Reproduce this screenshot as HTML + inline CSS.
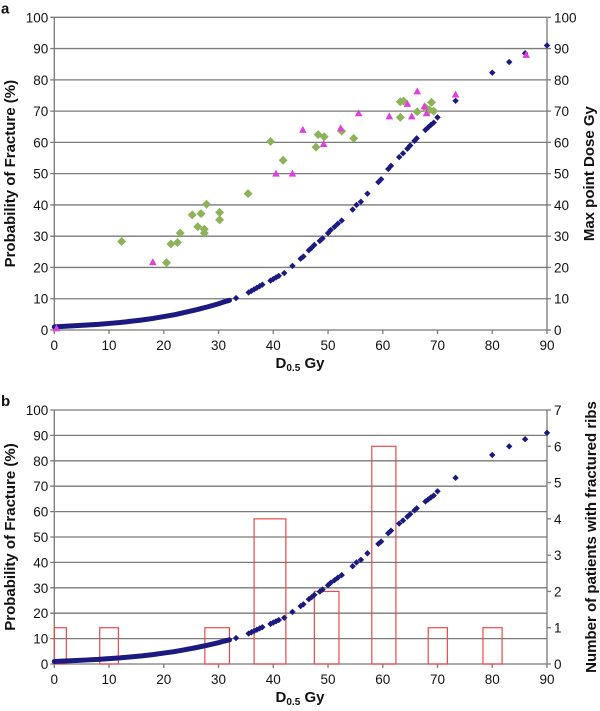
<!DOCTYPE html>
<html><head><meta charset="utf-8"><style>
body{margin:0;background:#fff}
svg{display:block;font-family:"Liberation Sans",sans-serif}
.tk{font-size:13.5px;fill:#111}
.tt{font-size:15px;font-weight:bold;fill:#111}
</style></head><body>
<svg id="c" width="600" height="711" viewBox="0 0 600 711"></svg>
<script>
const curveDenseX=[0,2,4,6,8,10,12,14,16,18,20,22,24,26,28,30,31,32];
const curveDenseY=[1,1.2,1.4,1.6,1.8,2.1,2.4,2.8,3.2,3.7,4.3,4.9,5.7,6.5,7.4,8.4,9,9.5];
const curveDotX=[33.2,35.5,36,36.5,37,37.5,38,39.5,40,40.5,41,42,43.5,45,45.5,46.5,47,47.5,48.5,49,50,50.5,51.2,51.8,52.5,54.5,55.2,56,57.2,59.2,59.7,61,61.5,63,63.7,64.5,65,65.8,66.2,67.8,68.3,68.8,69.3,70,73.3,80,83.1,86,90];
const curveDotY=[10.2,12,12.5,13,13.5,14,14.5,15.8,16.3,16.8,17.3,18.2,20.5,22.8,23.5,25.5,26.3,27.2,28.5,29.3,31,32,33,34,35,38.5,40,41,43.6,47.3,48.2,51.5,52.5,55.3,56.5,58,59,60.5,61.3,64,64.8,65.6,66.3,68,73.3,82.3,85.7,88.5,91];
const greenX=[12.3,20.5,21.3,22.5,23,25.2,26.2,26.8,27.4,27.4,27.8,30.2,30.2,35.4,39.5,41.8,47.8,48.2,49.3,52.5,54.7,63.2,63.8,63.2,66.3,68,68.5,68.9,69.3,67.8];
const greenY=[28.3,21.5,27.5,28,31,36.8,33,37.2,32.2,31,40.2,37.6,35.2,43.6,60.3,54.3,58.5,62.5,61.8,63.6,61.3,73,73.2,68,69.8,70.8,70.4,72.8,70,71];
const triX=[0.4,18,40.5,43.5,45.4,49.2,52.3,55.6,61.2,64.5,65.3,66.3,68,67.6,73.3,86.2];
const triY=[0.5,21.7,50,50,64,59.5,64.5,69.3,68.3,72.3,68.3,76.3,69.3,71.5,75.3,88];
const binLo=[-1,8.3,27.5,36.5,47.5,58,68.3,78.3];
const binHi=[2.2,11.7,32,42.3,52,62.4,71.8,81.8];
const binCount=[1,1,1,4,2,6,1,1];
const leftTicks=[0,10,20,30,40,50,60,70,80,90,100];
const xTicks=[0,10,20,30,40,50,60,70,80,90];
const rightTicksB=[0,1,2,3,4,5,6,7];

const svg=document.getElementById('c');
const NS='http://www.w3.org/2000/svg';
function mk(tag,attrs,parent){const e=document.createElementNS(NS,tag);for(const k in attrs)e.setAttribute(k,attrs[k]);(parent||svg).appendChild(e);return e;}
const X0=54.3,X1=547;
const sx=v=>X0+(X1-X0)*v/90;

function panel(key,top,bot,letter,rightTicks,rightMax,rightTitle){
  const g=mk('g',{});
  
  
  const sy=v=>bot-(bot-top)*v/100;
  const sr=v=>bot-(bot-top)*v/rightMax;
  leftTicks.forEach(t=>{
    const l=mk('line',{x1:X0-4,x2:X1,y1:sy(t),y2:sy(t),stroke:'#7a7a7a','stroke-width':1.3},g);
    
    
    const tx=mk('text',{x:X0-6,y:sy(t)+5,'text-anchor':'end',class:'tk'},g);tx.textContent=t;
    
    
  });
  rightTicks.forEach(t=>{
    mk('line',{x1:X1,x2:X1+4,y1:sr(t),y2:sr(t),stroke:'#7a7a7a','stroke-width':1.3},g);
    const tx=mk('text',{x:X1+7,y:sr(t)+5,class:'tk'},g);tx.textContent=t;
    
    
  });
  mk('line',{x1:X0,x2:X0,y1:top,y2:bot,stroke:'#7a7a7a','stroke-width':1.3},g);
  mk('line',{x1:X1,x2:X1,y1:top,y2:bot,stroke:'#7a7a7a','stroke-width':1.3},g);
  xTicks.forEach(t=>{
    mk('line',{x1:sx(t),x2:sx(t),y1:bot,y2:bot+4,stroke:'#7a7a7a','stroke-width':1.3},g);
    const tx=mk('text',{x:sx(t),y:bot+20,'text-anchor':'middle',class:'tk'},g);tx.textContent=t;
    
    
  });
  const lt=mk('text',{x:1,y:top-4,class:'tt','font-size':'18px'},g);lt.textContent=letter;
  
  
  const yt=mk('text',{x:0,y:0,class:'tt','text-anchor':'middle',transform:`translate(15,${(top+bot)/2}) rotate(-90)`},g);yt.textContent='Probability of Fracture  (%)';
  
  
  const rt=mk('text',{x:0,y:0,class:'tt','text-anchor':'middle',transform:`translate(${key==='a'?594:596},${(top+bot)/2}) rotate(-90)`},g);rt.textContent=rightTitle;
  
  
  const xt=mk('text',{x:300,y:bot+38,class:'tt','text-anchor':'middle'},g);
  xt.innerHTML='D<tspan font-size="10" dy="3">0.5</tspan><tspan dy="-3">  Gy</tspan>';
  
  
  return {g,sy,sr};
}
function diamond(g,cx,cy,r,fill,name){
  const p=mk('polygon',{points:`${cx},${cy-r} ${cx+r},${cy} ${cx},${cy+r} ${cx-r},${cy}`,fill:fill},g);
  
  
}
function curve(P){
  const pl=mk('polyline',{points:curveDenseX.map((x,i)=>sx(x)+','+P.sy(curveDenseY[i])).join(' '),fill:'none',stroke:'#1a1a80','stroke-width':5,'stroke-linecap':'round'},P.g);
  
  
  curveDotX.forEach((x,i)=>diamond(P.g,sx(x),P.sy(curveDotY[i]),3.2,'#1a1a80','probability-point'));
}
const A=panel('a',17.3,330,'a',leftTicks,100,'Max point Dose   Gy');
curve(A);
greenX.forEach((x,i)=>diamond(A.g,sx(x),A.sy(greenY[i]),4.5,'#8db35a','max-dose-diamond'));
triX.forEach((x,i)=>{
  const cx=sx(x),cy=A.sy(triY[i]);
  const t=mk('polygon',{points:`${cx},${cy-4} ${cx+3.8},${cy+3} ${cx-3.8},${cy+3}`,fill:'#e040e0'},A.g);
  
  
});
const B=panel('b',410,664,'b',rightTicksB,7,'Number of patients with fractured ribs');
binLo.forEach((lo,i)=>{
  const l=Math.max(lo,0);
  const r=mk('rect',{x:sx(l),y:B.sr(binCount[i]),width:sx(binHi[i])-sx(l),height:B.sr(0)-B.sr(binCount[i]),fill:'none',stroke:'#e84a4a','stroke-width':1.2},B.g);
  
  
});
curve(B);
</script>
</body></html>
